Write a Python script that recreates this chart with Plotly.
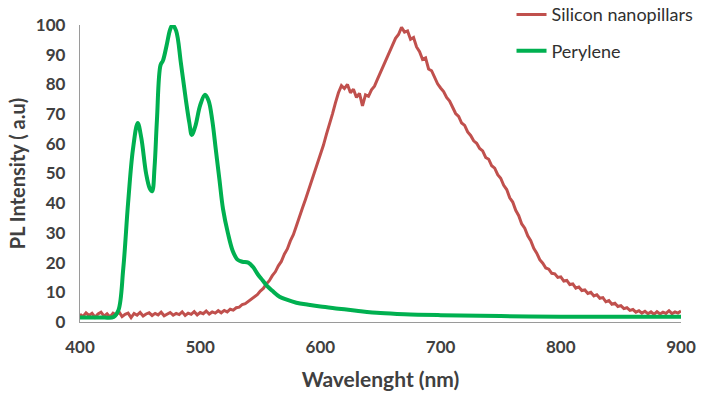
import plotly.graph_objects as go

# Silicon nanopillars PL (noisy), 2.5 nm steps from 400 to 900 nm
si_int = [
    2.6, 1.9, 3.1, 2.2, 2.9, 1.6, 2.7, 3.3, 2.0, 2.8,
    1.7, 3.0, 2.4, 3.4, 1.8, 2.6, 3.0, 1.5, 2.9, 2.3,
    3.2, 2.0, 2.7, 3.1, 2.2, 2.9, 2.4, 3.3, 2.1, 2.8,
    3.2, 2.3, 2.9, 2.5, 3.4, 2.2, 3.0, 2.6, 3.5, 2.4,
    3.2, 2.8, 3.7, 2.7, 3.4, 3.0, 3.8, 3.1, 3.9, 3.4,
    4.3,
    4.0, 4.8, 5.0, 5.9, 6.2, 7.0, 7.6, 8.6, 9.2, 10.4,
    11.3, 12.8, 13.9, 15.6, 16.9, 18.9, 20.4, 22.8, 24.6, 27.3,
    29.4, 32.3, 35.0, 38.3, 41.2, 44.3, 46.8, 50.2, 53.0, 56.4,
    59.5, 63.2, 66.4, 70.0, 73.8, 77.2, 79.6, 78.6, 80.0, 77.2,
    78.4, 75.6, 77.0, 72.8, 76.5, 76.0, 78.2, 79.4, 81.8, 84.2,
    86.0, 88.6, 91.0, 93.2, 95.5, 96.8, 99.2, 97.6, 98.0, 95.2,
    95.8, 92.6, 91.0, 88.4, 88.9, 85.2, 84.6, 82.4, 80.2, 78.8,
    77.6, 75.6, 74.4, 72.3, 70.2, 69.2, 67.0, 66.2, 64.0, 62.8,
    61.0, 60.2, 58.4, 57.6, 55.4, 54.8, 52.6, 51.8, 49.6, 48.4,
    46.0, 44.6, 41.8, 40.4, 37.6, 35.8, 33.0, 31.6, 29.0, 27.4,
    24.8, 23.2, 21.0, 19.8, 18.2, 17.8, 16.4, 16.2, 15.0, 15.2,
    13.8, 14.0, 12.6, 12.8, 11.4, 11.8, 10.6, 10.8, 9.6, 10.0,
    8.8, 9.2, 8.0, 8.2, 6.8, 7.2, 6.0, 6.3, 5.2, 5.5,
    4.5, 4.8, 3.9, 4.2, 3.3, 3.8, 3.0, 3.6, 2.8, 3.4,
    2.6, 3.5, 2.7, 3.3, 2.9, 3.8, 2.8, 3.4, 3.0, 3.7,
]
si_wl = [400 + 2.5 * i for i in range(len(si_int))]

# Perylene PL (smooth)
pe_wl = [400, 410, 420, 428, 432, 436, 440, 444, 448, 451, 455, 458, 460,
         462, 464, 467, 469, 472, 475, 477, 480, 484, 488, 491, 493, 496,
         500, 504, 507, 510, 513, 516, 519, 523, 527, 531, 535, 540, 544,
         548, 552, 556, 560, 566, 572, 580, 590, 600, 615, 630, 650, 670,
         700, 750, 800, 850, 900]
pe_int = [1.5, 1.5, 1.5, 1.7, 4.0, 18.0, 40.0, 58.0, 67.0, 62.0, 50.0, 45.0, 44.0,
          52.0, 68.0, 86.5, 88.0, 93.0, 98.5, 100.0, 98.0, 87.0, 75.0, 67.0, 63.0, 66.0,
          73.0, 76.5, 74.5, 68.0, 58.0, 48.0, 38.0, 30.0, 24.0, 21.0, 20.3, 20.0, 18.5,
          16.0, 14.0, 12.0, 10.5, 8.5, 7.5, 6.5, 5.8, 5.2, 4.5, 3.8, 3.0, 2.6,
          2.3, 2.0, 1.8, 1.8, 1.8]

x_ticks = [400, 500, 600, 700, 800, 900]
y_ticks = list(range(0, 101, 10))

FONT = "Lato"
TXT = "#404040"

fig = go.Figure()
fig.add_trace(go.Scatter(x=si_wl, y=si_int, mode="lines", name="Silicon nanopillars",
                         legendgroup="a",
                         line=dict(color="#C0504D", width=3)))
fig.add_trace(go.Scatter(x=pe_wl, y=pe_int, mode="lines", name="Perylene",
                         legendgroup="b", line_shape="spline",
                         line=dict(color="#00B050", width=4)))

fig.update_layout(
    width=710, height=393,
    margin=dict(l=80, r=29, t=25, b=71, autoexpand=False),
    paper_bgcolor="white", plot_bgcolor="white",
    font=dict(family=FONT, color=TXT),
    legend=dict(x=0.718, y=1.097, xanchor="left", yanchor="top",
                traceorder="grouped", tracegroupgap=10,
                font=dict(size=18, color="#303030"),
                bgcolor="rgba(0,0,0,0)"),
    xaxis=dict(range=[400, 900], tickvals=x_ticks, showgrid=False, zeroline=False,
               showline=True, linecolor="#9a9a9a", linewidth=1.3, ticks="",
               automargin=False,
               tickfont=dict(size=17, family=FONT, color=TXT, weight="bold"),
               ticklabelstandoff=9,
               title=dict(text="<b>Wavelenght (nm)</b>", font=dict(size=21, color=TXT),
                          standoff=16)),
    yaxis=dict(range=[0, 100], tickvals=y_ticks, showgrid=False, zeroline=False,
               showline=True, linecolor="#9a9a9a", linewidth=1.3, ticks="",
               automargin=False,
               tickfont=dict(size=17, family=FONT, color=TXT, weight="bold"),
               ticklabelstandoff=10,
               title=dict(text="<b>PL Intensity ( a.u)</b>", font=dict(size=20, color=TXT),
                          standoff=4)),
)

fig.write_html("out.html")
